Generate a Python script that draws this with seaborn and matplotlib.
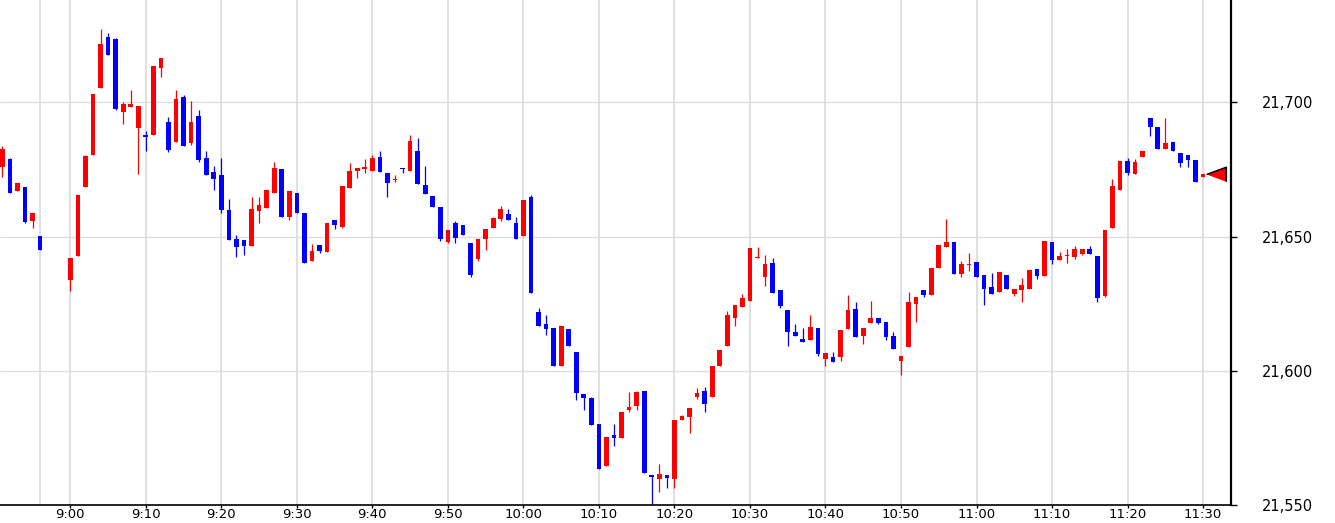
import numpy as np
import pandas as pd
import matplotlib
matplotlib.use("Agg")
import matplotlib.pyplot as plt
import seaborn as sns

# ---------------- data ----------------
pre_times = ["8:51", "8:52", "8:53", "8:54", "8:55", "8:56"]
main_times = [t.strftime("%-H:%M") for t in pd.date_range("2000-01-01 09:00", "2000-01-01 11:30", freq="min")]
times = pre_times + main_times

opens = [
    21676.0, 21678.9, 21667.0, 21668.3, 21655.9, 21650.1,
    21633.8, 21642.8, 21668.5, 21680.5, 21705.5, 21724.4, 21723.4, 21696.5, 21698.4, 21690.5,
    21687.8, 21687.9, 21712.9, 21692.7, 21685.3, 21702.0, 21684.9, 21694.9, 21679.2, 21674.0,
    21673.0, 21659.8, 21649.0, 21648.6, 21646.5, 21659.6, 21660.7, 21666.3, 21675.1, 21657.3,
    21666.2, 21658.7, 21640.7, 21647.0, 21644.3, 21656.1, 21653.6, 21668.2, 21674.5, 21675.0,
    21674.5, 21679.7, 21673.6, 21671.0, 21675.4, 21674.4, 21681.8, 21669.2, 21665.0, 21660.9,
    21648.1, 21654.9, 21654.2, 21647.5, 21641.7, 21649.1, 21653.1, 21656.5, 21658.3, 21655.0,
    21650.2, 21664.7, 21621.9, 21617.5, 21615.9, 21601.9, 21615.6, 21607.0, 21591.3, 21589.9,
    21580.1, 21564.5, 21576.0, 21575.0, 21585.4, 21586.9, 21592.4, 21561.1, 21559.5, 21561.1,
    21559.7, 21581.5, 21582.6, 21590.2, 21592.4, 21590.2, 21601.7, 21609.3, 21619.8, 21623.9,
    21626.1, 21642.0, 21635.1, 21640.2, 21629.9, 21622.6, 21614.4, 21611.9, 21611.6, 21615.9,
    21604.5, 21605.1, 21605.2, 21615.7, 21623.0, 21612.8, 21617.7, 21619.7, 21618.2, 21613.1,
    21603.7, 21609.0, 21624.8, 21630.1, 21628.4, 21638.4, 21646.0, 21647.9, 21636.2, 21639.4,
    21640.5, 21635.7, 21631.2, 21629.5, 21635.7, 21628.7, 21630.0, 21630.6, 21637.9, 21635.4,
    21647.9, 21641.4, 21642.7, 21642.2, 21643.5, 21645.5, 21642.7, 21628.0, 21653.2, 21667.4,
    21678.1, 21673.4, 21679.7, 21694.2, 21690.8, 21682.7, 21685.2, 21681.0, 21680.5, 21678.5,
    21672.0,
]
highs = [
    21683.7, 21679.2, 21669.9, 21668.3, 21658.7, 21650.1,
    21642.0, 21665.4, 21680.5, 21703.1, 21727.2, 21725.7, 21723.9, 21700.0, 21704.6, 21698.6,
    21689.3, 21713.6, 21716.5, 21694.4, 21704.4, 21702.6, 21700.5, 21697.1, 21681.8, 21676.2,
    21679.1, 21663.8, 21650.5, 21648.6, 21664.6, 21664.6, 21667.3, 21677.7, 21675.1, 21666.9,
    21666.2, 21658.7, 21647.1, 21647.0, 21655.0, 21656.1, 21668.8, 21677.4, 21675.4, 21678.7,
    21680.3, 21681.8, 21673.6, 21673.1, 21675.4, 21687.7, 21686.7, 21676.2, 21665.0, 21660.9,
    21652.4, 21655.7, 21654.2, 21647.5, 21649.0, 21652.7, 21657.2, 21661.3, 21660.4, 21657.2,
    21663.7, 21665.4, 21623.4, 21620.8, 21615.9, 21616.7, 21615.6, 21607.0, 21591.3, 21590.3,
    21580.1, 21575.5, 21580.0, 21584.6, 21592.0, 21592.4, 21592.4, 21561.1, 21565.2, 21561.1,
    21581.6, 21583.5, 21586.2, 21593.5, 21593.9, 21601.7, 21607.7, 21622.1, 21624.5, 21628.6,
    21645.6, 21646.0, 21643.0, 21642.0, 21629.9, 21622.6, 21617.4, 21615.9, 21620.8, 21615.9,
    21606.6, 21607.0, 21615.2, 21628.2, 21625.6, 21615.9, 21625.9, 21619.7, 21618.2, 21614.3,
    21605.5, 21629.2, 21627.5, 21630.1, 21638.3, 21646.8, 21656.5, 21647.9, 21640.7, 21644.0,
    21640.5, 21635.7, 21636.3, 21636.8, 21635.7, 21630.5, 21634.6, 21637.6, 21637.9, 21648.3,
    21647.9, 21644.4, 21645.5, 21646.4, 21645.5, 21646.6, 21642.7, 21652.4, 21671.6, 21678.1,
    21679.2, 21678.9, 21681.8, 21694.2, 21690.8, 21694.2, 21685.2, 21681.0, 21680.5, 21678.5,
    21673.4,
]
lows = [
    21672.3, 21666.3, 21667.0, 21655.1, 21653.2, 21645.1,
    21629.6, 21642.8, 21668.5, 21680.5, 21705.5, 21717.8, 21697.0, 21691.8, 21698.4, 21673.4,
    21682.0, 21687.9, 21709.3, 21681.6, 21685.3, 21683.8, 21684.2, 21677.6, 21673.0, 21667.5,
    21658.6, 21648.8, 21642.3, 21643.2, 21646.5, 21655.2, 21660.7, 21666.3, 21657.3, 21656.2,
    21658.6, 21640.0, 21640.7, 21643.9, 21644.3, 21652.9, 21653.1, 21668.2, 21671.9, 21673.5,
    21674.5, 21674.1, 21664.8, 21670.3, 21673.5, 21674.4, 21669.4, 21665.7, 21661.1, 21648.5,
    21647.6, 21647.6, 21650.6, 21635.1, 21640.7, 21644.9, 21653.1, 21655.7, 21656.1, 21649.0,
    21650.2, 21628.8, 21616.8, 21613.3, 21601.9, 21601.9, 21609.4, 21589.2, 21585.5, 21579.9,
    21563.4, 21564.5, 21571.8, 21575.0, 21584.8, 21585.2, 21561.9, 21550.1, 21555.0, 21556.5,
    21556.5, 21581.5, 21577.0, 21589.3, 21584.5, 21590.2, 21601.7, 21609.3, 21616.5, 21623.9,
    21626.1, 21642.0, 21631.7, 21629.1, 21623.5, 21609.3, 21613.1, 21610.8, 21611.6, 21605.6,
    21601.6, 21603.4, 21603.7, 21615.7, 21612.7, 21609.8, 21617.7, 21617.6, 21611.6, 21608.2,
    21598.5, 21609.0, 21618.0, 21627.5, 21628.4, 21638.4, 21646.0, 21636.2, 21635.1, 21637.1,
    21635.1, 21624.4, 21628.7, 21629.5, 21630.3, 21628.0, 21625.5, 21630.6, 21634.1, 21635.4,
    21639.7, 21641.4, 21640.3, 21641.7, 21643.1, 21643.5, 21625.6, 21627.6, 21653.2, 21667.4,
    21673.1, 21673.4, 21679.5, 21687.6, 21682.7, 21682.7, 21682.0, 21676.0, 21676.0, 21670.4,
    21672.0,
]
closes = [
    21682.6, 21666.3, 21669.9, 21655.5, 21658.7, 21645.1,
    21642.0, 21665.4, 21680.1, 21703.1, 21721.8, 21717.8, 21697.5, 21699.5, 21699.4, 21698.6,
    21686.9, 21713.6, 21716.5, 21682.2, 21701.2, 21683.8, 21692.7, 21678.5, 21673.0, 21671.5,
    21659.9, 21648.8, 21646.1, 21646.5, 21660.2, 21661.7, 21667.3, 21675.5, 21657.3, 21666.9,
    21658.6, 21640.0, 21644.5, 21644.7, 21655.0, 21654.2, 21668.8, 21674.4, 21675.4, 21676.0,
    21679.2, 21674.1, 21670.0, 21671.6, 21675.0, 21685.6, 21669.4, 21665.7, 21661.1, 21649.0,
    21652.4, 21649.4, 21650.6, 21635.6, 21649.0, 21652.7, 21656.8, 21660.2, 21656.1, 21649.0,
    21663.7, 21628.8, 21616.8, 21615.6, 21601.9, 21616.7, 21609.4, 21591.8, 21589.9, 21579.9,
    21563.4, 21575.5, 21574.8, 21584.6, 21586.4, 21592.0, 21561.9, 21560.3, 21561.7, 21559.9,
    21581.6, 21583.1, 21586.2, 21591.7, 21587.8, 21601.7, 21607.7, 21620.8, 21624.5, 21627.1,
    21645.6, 21642.4, 21639.8, 21629.1, 21624.0, 21614.6, 21613.1, 21610.8, 21616.3, 21606.2,
    21606.6, 21603.4, 21615.2, 21622.6, 21612.7, 21615.9, 21619.7, 21617.9, 21612.7, 21608.2,
    21605.5, 21625.6, 21627.5, 21628.4, 21638.3, 21646.8, 21647.9, 21636.2, 21639.8, 21639.9,
    21635.1, 21630.3, 21628.7, 21636.8, 21630.3, 21630.5, 21632.0, 21637.6, 21635.4, 21648.3,
    21641.4, 21642.9, 21643.2, 21645.5, 21645.5, 21643.5, 21627.2, 21652.4, 21668.8, 21678.1,
    21673.8, 21677.6, 21681.8, 21690.9, 21682.7, 21684.7, 21682.0, 21677.5, 21678.5, 21670.4,
    21673.4,
]

y_ticks = [21550, 21600, 21650, 21700]
x_tick_labels = ["9:00", "9:10", "9:20", "9:30", "9:40", "9:50", "10:00", "10:10",
                 "10:20", "10:30", "10:40", "10:50", "11:00", "11:10", "11:20", "11:30"]

# ---------------- derived ----------------
def to_min(s):
    h, m = s.split(":")
    return (int(h) - 9) * 60 + int(m)

x = np.array([to_min(t) for t in times], dtype=float)
o = np.array(opens); h = np.array(highs); l = np.array(lows); c = np.array(closes)
UP, DOWN = "#ff0000", "#0000ff"
colors = np.where(c >= o, UP, DOWN)

df = pd.DataFrame({"x": x, "open": o, "high": h, "low": l, "close": c})

# ---------------- figure ----------------
sns.set_theme(style="white")
plt.rcParams['font.family'] = ['DejaVu Sans']

W, H, DPI = 1335, 523, 100
fig = plt.figure(figsize=(W / DPI, H / DPI), dpi=DPI)
ax = fig.add_axes([0, 18 / H, 1231 / W, 505 / H])
ax.set_facecolor("white")

GRID = "#dcdcdc"
# vertical grid lines
for xt in [to_min(t) for t in x_tick_labels] + [to_min(pre_times[-1])]:
    ax.axvline(xt, color=GRID, lw=1.3, zorder=0)
for yt in y_ticks[1:]:
    ax.axhline(yt, color=GRID, lw=0.9, zorder=0)

# wicks
ax.vlines(df["x"], df["low"], df["high"], colors=colors, linewidth=0.9, zorder=2)
# bodies
body = np.maximum(np.abs(c - o), 0.45)
ax.bar(df["x"], body, bottom=np.minimum(o, c), width=0.62, color=colors,
       linewidth=0, zorder=3)

# last price marker
tri = [(-1.35, 0), (1.35, 1.0), (1.35, -1.0)]
last = df.iloc[[-1]].copy()
last["mx"] = last["x"] + 1.7
sns.scatterplot(data=last, x="mx", y="close", marker=tri, s=200, color=UP,
                edgecolor="black", linewidth=1.1, ax=ax, zorder=5, legend=False)

ax.set_xlim(-9.31, 153.7)
ax.set_ylim(21550, 21738.1)

ax.set_xticks([to_min(t) for t in x_tick_labels])
ax.set_xticklabels(x_tick_labels, fontsize=9.5)
ax.yaxis.tick_right()
ax.set_yticks(y_ticks)
ax.set_yticklabels([f"{v:,}" for v in y_ticks], fontsize=10.5)
ax.tick_params(axis="y", direction="out", length=4.5, width=1, color="black", pad=18,
               labelcolor="black", right=True, left=False)
ax.tick_params(axis="x", direction="out", length=2, width=1, color="black", pad=0.5,
               labelcolor="black", bottom=True)
ax.set_xlabel(""); ax.set_ylabel("")

for side in ["left", "top"]:
    ax.spines[side].set_visible(False)
ax.spines["right"].set_color("black"); ax.spines["right"].set_linewidth(1.6)
ax.spines["bottom"].set_color("black"); ax.spines["bottom"].set_linewidth(1.2)

fig.savefig("out.png", dpi=DPI, facecolor="white")
